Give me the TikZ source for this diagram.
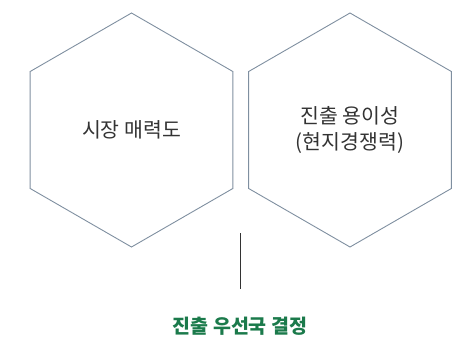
\documentclass[tikz,border=0pt]{standalone}
\usepackage{fontspec}
\setmainfont{Noto Sans CJK KR}
\usetikzlibrary{shapes.geometric}

\definecolor{hexline}{HTML}{7F8FA0}
\definecolor{textgray}{HTML}{333333}
\definecolor{decgreen}{HTML}{1B7A4B}

\begin{document}
\begin{tikzpicture}[x=1pt,y=1pt]
\useasboundingbox (0,0) rectangle (457,338);

\tikzset{hexa/.style={draw=hexline, line width=0.9pt, regular polygon, regular polygon sides=6,
  shape border rotate=30, minimum size=234pt, inner sep=0pt, text=textgray,
  font=\fontsize{20.5}{26}\selectfont, align=center}}

\node[hexa] (market) at (131.5,208) {시장 매력도};
\node[hexa] (entry) at (350,208) {진출 용이성\\(현지경쟁력)};

\coordinate (stemtop) at (240,105);
\coordinate (stembot) at (240,49);
\path[draw,line width=0.9pt,textgray] (stemtop) -- (stembot);

\node[anchor=center, text=decgreen, font=\fontsize{19.5}{22}\selectfont\bfseries] (decision) at (240,12) {진출 우선국 결정};
\end{tikzpicture}
\end{document}
